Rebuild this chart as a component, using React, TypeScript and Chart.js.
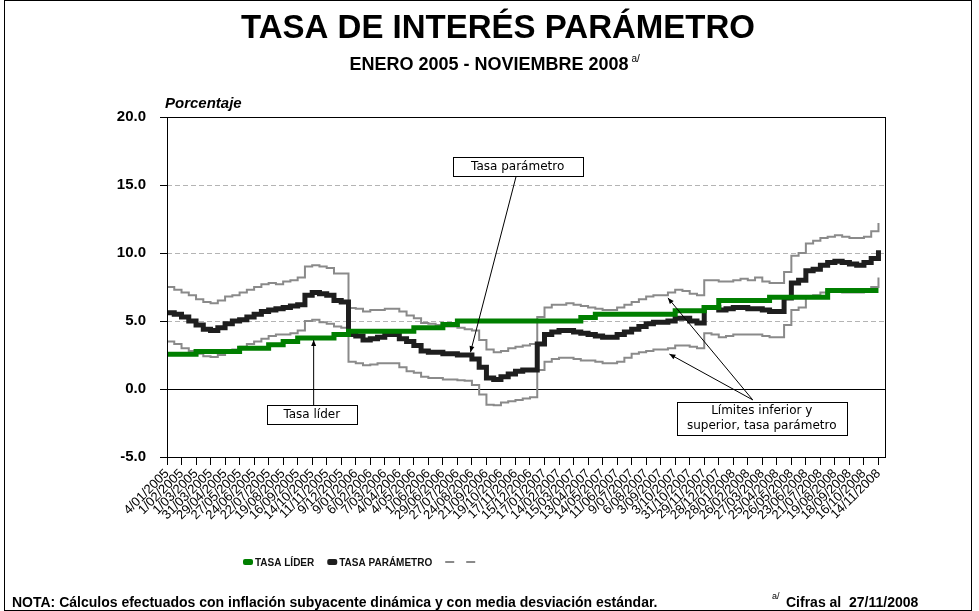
import { useEffect, useRef } from "react";
import { Chart, registerables } from "chart.js";

Chart.register(...registerables);

// ---------------- DATA ----------------
const tickLabels = [
  "4/01/2005", "1/02/2005", "1/03/2005", "31/03/2005", "29/04/2005", "27/05/2005", "24/06/2005", "22/07/2005",
  "19/08/2005", "16/09/2005", "14/10/2005", "11/11/2005", "9/12/2005", "9/01/2006", "6/02/2006", "7/03/2006",
  "4/04/2006", "4/05/2006", "1/06/2006", "29/06/2006", "27/07/2006", "24/08/2006", "21/09/2006", "19/10/2006",
  "17/11/2006", "15/12/2006", "17/01/2007", "14/02/2007", "15/03/2007", "13/04/2007", "14/05/2007", "11/06/2007",
  "9/07/2007", "6/08/2007", "3/09/2007", "3/10/2007", "31/10/2007", "29/11/2007", "28/12/2007", "28/01/2008",
  "26/02/2008", "27/03/2008", "25/04/2008", "26/05/2008", "23/06/2008", "21/07/2008", "19/08/2008", "18/09/2008",
  "16/10/2008", "14/11/2008",
];

// two observations per tick-label period (fortnightly)
const tasaLider = [
  2.55, 2.55, 2.55, 2.55, 2.75, 2.75, 2.75, 2.75, 2.75, 2.75,
  3.0, 3.0, 3.0, 3.0, 3.25, 3.25, 3.5, 3.5, 3.75, 3.75,
  3.75, 3.75, 3.75, 4.0, 4.0, 4.25, 4.25, 4.25, 4.25, 4.25,
  4.25, 4.25, 4.25, 4.25, 4.5, 4.5, 4.5, 4.5, 4.75, 4.75,
  5.0, 5.0, 5.0, 5.0, 5.0, 5.0, 5.0, 5.0, 5.0, 5.0,
  5.0, 5.0, 5.0, 5.0, 5.0, 5.0, 5.0, 5.25, 5.25, 5.5,
  5.5, 5.5, 5.5, 5.5, 5.5, 5.5, 5.5, 5.5, 5.5, 5.5,
  5.75, 5.75, 5.75, 5.75, 6.0, 6.0, 6.5, 6.5, 6.5, 6.5,
  6.5, 6.5, 6.5, 6.75, 6.75, 6.75, 6.75, 6.75, 6.75, 6.75,
  6.75, 7.25, 7.25, 7.25, 7.25, 7.25, 7.25, 7.25, 7.25,
];

const tasaParametro = [
  5.6, 5.5, 5.3, 5.0, 4.7, 4.4, 4.3, 4.5, 4.8, 5.0,
  5.1, 5.3, 5.5, 5.7, 5.8, 5.9, 6.0, 6.1, 6.2, 6.9,
  7.1, 7.0, 6.9, 6.5, 6.4, 4.0, 3.9, 3.6, 3.7, 3.8,
  4.0, 4.0, 3.7, 3.5, 3.2, 2.8, 2.7, 2.7, 2.6, 2.6,
  2.5, 2.5, 2.2, 1.6, 0.8, 0.7, 0.9, 1.1, 1.3, 1.4,
  1.4, 3.3, 4.0, 4.2, 4.3, 4.3, 4.2, 4.1, 4.0, 3.9,
  3.8, 3.8, 4.0, 4.2, 4.4, 4.6, 4.8, 4.9, 4.9, 5.0,
  5.2, 5.2, 5.0, 4.85, 6.0, 6.0, 5.8, 5.9, 6.0, 6.0,
  5.9, 5.9, 5.8, 5.7, 5.7, 6.7, 7.8, 8.0, 8.7, 8.8,
  9.1, 9.3, 9.4, 9.3, 9.2, 9.1, 9.3, 9.6, 10.2,
];

const limiteSuperior = [
  7.5, 7.3, 7.1, 6.9, 6.6, 6.4, 6.3, 6.5, 6.8, 6.9,
  7.1, 7.3, 7.5, 7.7, 7.8, 7.7, 7.9, 8.0, 8.2, 9.0,
  9.1, 9.0, 8.9, 8.5, 8.5, 5.95, 5.9, 5.7, 5.8, 5.8,
  5.9, 5.9, 5.7, 5.4, 5.2, 4.85, 4.8, 4.7, 4.6, 4.6,
  4.5, 4.4, 4.3, 3.6, 2.9, 2.7, 2.8, 3.0, 3.1, 3.2,
  3.3, 5.3, 6.0, 6.2, 6.2, 6.3, 6.2, 6.1, 6.0, 5.9,
  5.8, 5.8, 6.0, 6.2, 6.4, 6.6, 6.8, 6.9, 6.9, 7.1,
  7.3, 7.2, 7.0, 6.9, 8.0, 8.0, 7.9, 7.9, 8.0, 8.1,
  8.0, 8.2, 7.9, 7.8, 7.8, 8.6, 9.8, 10.0, 10.7, 10.9,
  11.1, 11.2, 11.3, 11.2, 11.1, 11.1, 11.2, 11.6, 12.2,
];

const limiteInferior = [
  3.5, 3.3, 3.0, 2.8, 2.6, 2.4, 2.35, 2.5, 2.7, 2.9,
  3.1, 3.3, 3.5, 3.7, 3.9, 4.0, 4.0, 4.1, 4.3, 5.0,
  5.1, 4.9, 4.8, 4.6, 4.5, 2.0, 1.9, 1.75, 1.8, 1.9,
  1.9, 1.9, 1.6, 1.3, 1.2, 0.9, 0.8, 0.8, 0.7, 0.7,
  0.65, 0.6, 0.3, -0.4, -1.15, -1.2, -1.0, -0.9, -0.8, -0.7,
  -0.6, 1.4, 2.0, 2.2, 2.3, 2.3, 2.2, 2.1, 2.1, 2.0,
  1.9, 1.9, 2.0, 2.3, 2.6, 2.7, 2.8, 2.9, 2.9, 3.0,
  3.2, 3.2, 3.1, 3.0, 4.1, 4.0, 3.8, 3.9, 4.0, 4.0,
  4.0, 4.0, 3.9, 3.8, 3.8, 4.7, 5.8, 6.0, 6.7, 6.9,
  7.1, 7.3, 7.2, 7.1, 7.1, 7.1, 7.3, 7.5, 8.2,
];

const yTicks = [-5, 0, 5, 10, 15, 20];
const dashedGridValues = [5, 10, 15];

const seriesLabels = ["TASA LÍDER", "TASA PARÁMETRO", "", ""];

const titleText = "TASA DE INTERÉS PARÁMETRO";
const subtitleText = "ENERO 2005 - NOVIEMBRE 2008";
const axisTitle = "Porcentaje";
const noteText = "NOTA: Cálculos efectuados con inflación subyacente dinámica y con media desviación estándar.";
const sourceText = "Cifras al  27/11/2008";

type Ann = {
  lines: string[];
  at: [number, number];
  w: number;
  h: number;
  arrows: { from: [number, number]; to: [number, number] }[];
};

const annotations: Ann[] = [
  { lines: ["Tasa parámetro"], at: [24.15, 16.36], w: 130, h: 19, arrows: [{ from: [24.05, 15.66], to: [20.9, 2.7] }] },
  { lines: ["Tasa líder"], at: [9.97, -1.87], w: 90, h: 19, arrows: [{ from: [10.1, -1.18], to: [10.1, 3.6] }] },
  {
    lines: ["Límites inferior y", "superior, tasa parámetro"],
    at: [40.96, -2.17],
    w: 170,
    h: 33,
    arrows: [
      { from: [40.34, -0.8], to: [34.5, 6.7] },
      { from: [40.34, -0.8], to: [34.6, 2.57] },
    ],
  },
];

// ---------------- STYLE ----------------
const SANS = "'Liberation Sans', Arial, sans-serif";
const NARROW = "'Liberation Sans Narrow', 'Liberation Sans', Arial, sans-serif";
const BOXFONT = "'DejaVu Sans', Verdana, sans-serif";

const GREEN = "#007f00";
const BLACK = "#1e1e1e";
const GRAY = "#8a8a8a";

function drawArrow(ctx: CanvasRenderingContext2D, x1: number, y1: number, x2: number, y2: number) {
  ctx.beginPath();
  ctx.moveTo(x1, y1);
  ctx.lineTo(x2, y2);
  ctx.stroke();
  const ang = Math.atan2(y2 - y1, x2 - x1);
  const L = 6;
  const W = 2.5;
  ctx.beginPath();
  ctx.moveTo(x2, y2);
  ctx.lineTo(x2 - L * Math.cos(ang) + W * Math.sin(ang), y2 - L * Math.sin(ang) - W * Math.cos(ang));
  ctx.lineTo(x2 - L * Math.cos(ang) - W * Math.sin(ang), y2 - L * Math.sin(ang) + W * Math.cos(ang));
  ctx.closePath();
  ctx.fill();
}

const decorPlugin = {
  id: "decor",
  beforeDatasetsDraw(chart: any) {
    const { ctx, chartArea: a, scales } = chart;
    const y = scales.y;
    ctx.save();
    ctx.lineWidth = 1;
    ctx.strokeStyle = "#b4b4b4";
    ctx.setLineDash([5, 3]);
    for (const v of dashedGridValues) {
      const py = Math.round(y.getPixelForValue(v)) + 0.5;
      ctx.beginPath();
      ctx.moveTo(a.left, py);
      ctx.lineTo(a.right, py);
      ctx.stroke();
    }
    ctx.setLineDash([]);
    ctx.strokeStyle = "#000";
    const p0 = Math.round(y.getPixelForValue(0)) + 0.5;
    ctx.beginPath();
    ctx.moveTo(a.left, p0);
    ctx.lineTo(a.right, p0);
    ctx.stroke();
    ctx.restore();
  },
  afterDatasetsDraw(chart: any) {
    const { ctx, chartArea: a, scales } = chart;
    const { x, y } = scales;
    ctx.save();
    ctx.strokeStyle = "#000";
    ctx.lineWidth = 1;
    ctx.strokeRect(Math.round(a.left) + 0.5, Math.round(a.top) + 0.5, Math.round(a.right - a.left), Math.round(a.bottom - a.top));
    ctx.fillStyle = "#000";
    for (const an of annotations) {
      for (const ar of an.arrows) {
        drawArrow(
          ctx,
          x.getPixelForValue(ar.from[0]),
          y.getPixelForValue(ar.from[1]),
          x.getPixelForValue(ar.to[0]),
          y.getPixelForValue(ar.to[1])
        );
      }
    }
    for (const an of annotations) {
      const cx = x.getPixelForValue(an.at[0]);
      const cy = y.getPixelForValue(an.at[1]);
      const bx = Math.round(cx - an.w / 2) + 0.5;
      const by = Math.round(cy - an.h / 2) + 0.5;
      ctx.fillStyle = "#fff";
      ctx.fillRect(bx, by, an.w, an.h);
      ctx.strokeStyle = "#000";
      ctx.strokeRect(bx, by, an.w, an.h);
      ctx.fillStyle = "#000";
      ctx.font = `12px ${BOXFONT}`;
      ctx.textAlign = "center";
      ctx.textBaseline = "middle";
      const lh = 15;
      an.lines.forEach((ln, i) => {
        ctx.fillText(ln, cx, cy + (i - (an.lines.length - 1) / 2) * lh);
      });
    }
    ctx.restore();
  },
  afterDraw(chart: any) {
    const { ctx } = chart;
    ctx.save();
    ctx.fillStyle = "#000";
    ctx.textBaseline = "alphabetic";
    // title
    ctx.textAlign = "center";
    ctx.font = `bold 33px ${SANS}`;
    ctx.fillText(titleText, 498, 38);
    // subtitle
    ctx.font = `bold 18px ${SANS}`;
    ctx.fillText(subtitleText, 489, 70);
    const sw = ctx.measureText(subtitleText).width;
    ctx.textAlign = "left";
    ctx.font = `10px ${SANS}`;
    ctx.fillText("a/", 489 + sw / 2 + 3, 62);
    // axis title
    ctx.font = `italic bold 15px ${SANS}`;
    ctx.fillText(axisTitle, 165, 108);
    // legend
    const ds = chart.data.datasets;
    let lx = 243;
    const ly = 562;
    ctx.font = `bold 10px ${SANS}`;
    ctx.textBaseline = "middle";
    for (const d of ds) {
      if (d.label) {
        ctx.fillStyle = d.borderColor;
        ctx.beginPath();
        (ctx as any).roundRect(lx, ly - 3, 10, 6, 2);
        ctx.fill();
        ctx.fillStyle = "#111";
        ctx.fillText(d.label, lx + 12, ly + 1);
        lx += 12 + ctx.measureText(d.label).width + 13;
      } else {
        ctx.strokeStyle = d.borderColor;
        ctx.lineWidth = 2;
        ctx.beginPath();
        ctx.moveTo(lx, ly);
        ctx.lineTo(lx + 9, ly);
        ctx.stroke();
        lx += 21;
      }
    }
    // note
    ctx.textBaseline = "alphabetic";
    ctx.fillStyle = "#000";
    ctx.font = `bold 14px ${NARROW}`;
    ctx.fillText(noteText, 12, 607);
    ctx.font = `9px ${SANS}`;
    ctx.fillText("a/", 772, 599);
    ctx.font = `bold 14px ${NARROW}`;
    ctx.fillText(sourceText, 786, 607);
    // outer frame
    ctx.strokeStyle = "#000";
    ctx.lineWidth = 1;
    ctx.strokeRect(4.5, 0.5, 967, 610);
    ctx.restore();
  },
};

export default function App() {
  const ref = useRef<HTMLCanvasElement | null>(null);
  useEffect(() => {
    if (!ref.current) return;
    const pts = (arr: number[]) => arr.map((v, j) => ({ x: j / 2, y: v }));
    const seriesData = [tasaLider, tasaParametro, limiteSuperior, limiteInferior];
    const colors = [GREEN, BLACK, GRAY, GRAY];
    const widths = [5, 5, 2, 2];
    const chart = new Chart(ref.current, {
      type: "line",
      data: {
        datasets: seriesData.map((arr, k) => ({
          label: seriesLabels[k],
          data: pts(arr),
          borderColor: colors[k],
          backgroundColor: colors[k],
          borderWidth: widths[k],
          pointRadius: 0,
          stepped: true,
          fill: false,
          tension: 0,
        })),
      },
      options: {
        animation: false,
        responsive: false,
        devicePixelRatio: 1,
        layout: { padding: { left: 0, top: 117, right: 94, bottom: 0 } },
        plugins: { legend: { display: false }, tooltip: { enabled: false }, title: { display: false } },
        scales: {
          x: {
            type: "linear",
            min: 0,
            max: 49.45,
            afterBuildTicks: (axis: any) => {
              axis.ticks = tickLabels.map((_, i) => ({ value: i }));
            },
            afterFit: (s: any) => {
              s.height = 154;
            },
            grid: { drawOnChartArea: false, drawTicks: true, tickLength: 8, tickColor: "#000", color: "#000" },
            border: { display: true, color: "#000", width: 1 },
            ticks: {
              autoSkip: false,
              maxRotation: 45,
              minRotation: 45,
              padding: 1,
              color: "#000",
              font: { family: SANS, size: 13 },
              callback: (_v: any, i: number) => tickLabels[i] ?? "",
            },
          },
          y: {
            type: "linear",
            min: -5,
            max: 20,
            afterBuildTicks: (axis: any) => {
              axis.ticks = yTicks.map((v) => ({ value: v }));
            },
            afterFit: (s: any) => {
              s.width = 167;
            },
            grid: { drawOnChartArea: false, drawTicks: true, tickLength: 7, tickColor: "#000", color: "#000" },
            border: { display: true, color: "#000", width: 1 },
            ticks: {
              padding: 14,
              color: "#000",
              font: { family: SANS, size: 15, weight: "bold" },
              callback: (v: any) => Number(v).toFixed(1),
            },
          },
        },
      },
      plugins: [decorPlugin],
    } as any);
    return () => chart.destroy();
  }, []);
  return (
    <div style={{ position: "absolute", left: 0, top: 0, width: 979, height: 611, background: "#fff" }}>
      <canvas ref={ref} width={979} height={611} style={{ display: "block", width: 979, height: 611 }} />
    </div>
  );
}
